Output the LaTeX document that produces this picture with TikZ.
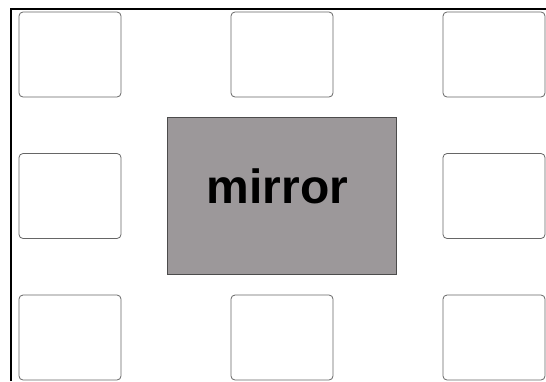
\documentclass[tikz,border=0pt]{standalone}
\usepackage{fontspec}
\setmainfont{Liberation Sans}
\usetikzlibrary{positioning,calc}
\definecolor{mirrorgray}{HTML}{9C989A}
\definecolor{edgegray}{HTML}{666666}

\begin{document}
\begin{tikzpicture}[
            x=1pt, y=-1pt,
            node distance=56.5pt and 110pt,
            cell/.style={rectangle, rounded corners=4pt, draw=edgegray, line width=0.8pt, minimum width=102pt, minimum height=85pt, inner sep=0pt, outer sep=0pt},
            mirrorbox/.style={rectangle, draw=black!70, line width=0.8pt, fill=mirrorgray, minimum width=229pt, minimum height=157pt, inner sep=0pt, font=\bfseries\fontsize{48}{50}\selectfont, text depth=19pt}
        ]
            \useasboundingbox (0,0) rectangle (546,381);
            % frame lines
            \draw[line width=2pt] (11,381) -- (11,9) -- (546,9);

            \node[cell] (tl) at (70,54.5) {};
            \node[cell, right=of tl] (tm) {};
            \node[cell, right=of tm] (tr) {};
            \node[cell, below=of tl] (ml) {};
            \node[cell, below=of tr] (mr) {};
            \node[cell, below=of ml] (bl) {};
            \node[cell, right=of bl] (bm) {};
            \node[cell, right=of bm] (br) {};

            \node[mirrorbox] (mirror) at ($(ml)!0.5!(mr)$) {mirror\kern9pt};
        \end{tikzpicture}
\end{document}
